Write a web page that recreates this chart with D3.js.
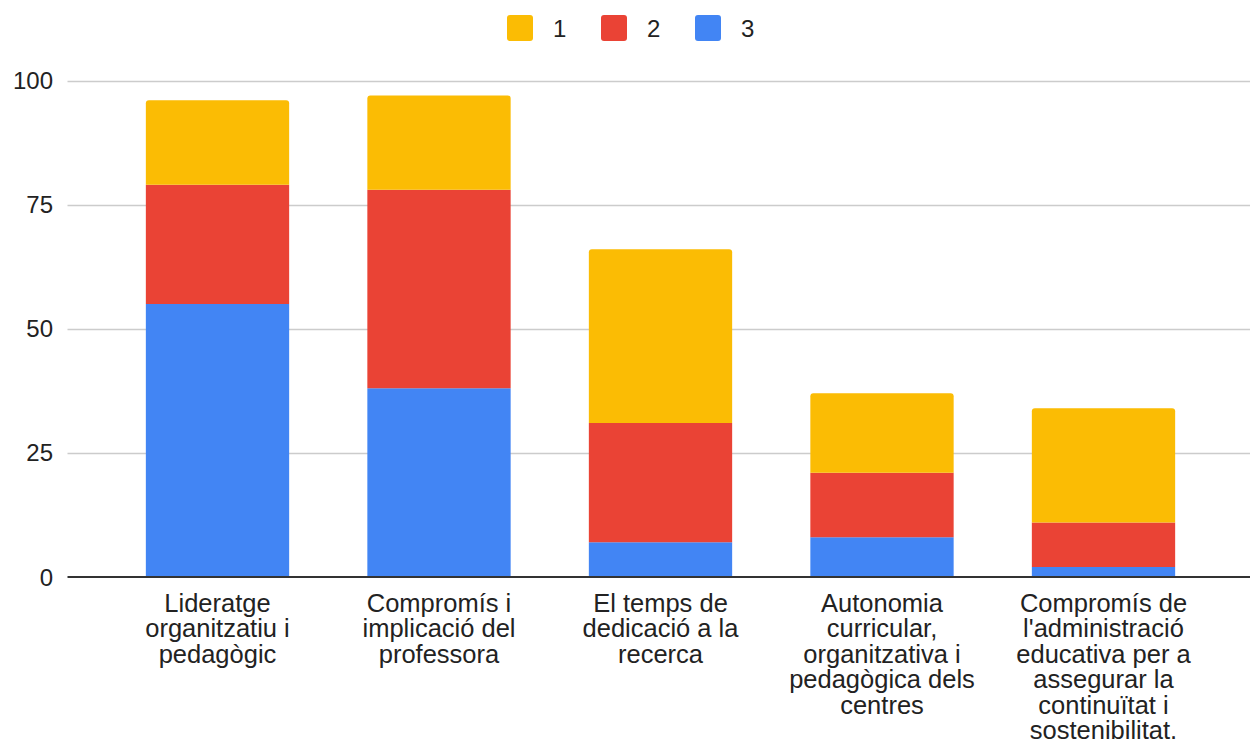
<!DOCTYPE html>
<html>
<head>
<meta charset="utf-8">
<script src="https://cdn.jsdelivr.net/npm/d3@7"></script>
<style>
  html, body { margin: 0; padding: 0; background: #fff; }
  svg { display: block; font-family: Arial, "Liberation Sans", sans-serif; }
</style>
</head>
<body>
<svg id="chart" width="1250" height="743"></svg>
<script>
// ---- data ----
const categories = [
  "Lideratge organitzatiu i pedagògic",
  "Compromís i implicació del professora",
  "El temps de dedicació a la recerca",
  "Autonomia curricular, organitzativa i pedagògica dels centres",
  "Compromís de l'administració educativa per a assegurar la continuïtat i sostenibilitat."
];
const categoryLines = [
  ["Lideratge", "organitzatiu i", "pedagògic"],
  ["Compromís i", "implicació del", "professora"],
  ["El temps de", "dedicació a la", "recerca"],
  ["Autonomia", "curricular,", "organitzativa i", "pedagògica dels", "centres"],
  ["Compromís de", "l'administració", "educativa per a", "assegurar la", "continuïtat i", "sostenibilitat."]
];
const seriesNames = ["1", "2", "3"];
const series3 = [55, 38, 7, 8, 2];
const series2 = [24, 40, 24, 13, 9];
const series1 = [17, 19, 35, 16, 23];
const yTicks = [0, 25, 50, 75, 100];
const colors = { "1": "#FBBC04", "2": "#EA4335", "3": "#4285F4" };

// ---- build stacked table (bottom to top: 3, 2, 1) ----
const rows = categories.map((c, i) => ({ cat: c, "3": series3[i], "2": series2[i], "1": series1[i] }));
const stackOrder = ["3", "2", "1"];
const stacked = d3.stack().keys(stackOrder)(rows);

const svg = d3.select("#chart");
const y = d3.scaleLinear().domain([0, 100]).range([577, 80.5]);
const x = d3.scaleBand().domain(categories).range([106.75, 1214.25]).paddingInner(0.353).paddingOuter(0.1765);

// gridlines
svg.append("g").selectAll("line").data(yTicks.filter(t => t !== 0)).join("line")
  .attr("x1", 67.5).attr("x2", 1250)
  .attr("y1", d => Math.round(y(d)) + 0.5).attr("y2", d => Math.round(y(d)) + 0.5)
  .attr("stroke", "#cccccc").attr("stroke-width", 1.5);

// y tick labels
svg.append("g").selectAll("text").data(yTicks).join("text")
  .attr("x", 53).attr("y", d => y(d))
  .attr("text-anchor", "end").attr("dominant-baseline", "central")
  .attr("font-size", 24).attr("fill", "#222")
  .text(d => d);

// bars
const r = 3;
function topRounded(x0, y0, w, h) {
  const rr = Math.min(r, h);
  return `M${x0},${y0 + h}V${y0 + rr}Q${x0},${y0} ${x0 + rr},${y0}H${x0 + w - rr}Q${x0 + w},${y0} ${x0 + w},${y0 + rr}V${y0 + h}Z`;
}
const layers = svg.append("g").selectAll("g").data(stacked).join("g")
  .attr("fill", d => colors[d.key]);
layers.each(function(layer) {
  const isTop = layer.key === stackOrder[stackOrder.length - 1];
  d3.select(this).selectAll("path").data(layer).join("path")
    .attr("d", d => {
      const x0 = x(d.data.cat), w = x.bandwidth();
      const yTop = y(d[1]), h = y(d[0]) - y(d[1]);
      if (isTop) return topRounded(x0, yTop, w, h);
      return `M${x0},${yTop}H${x0 + w}V${yTop + h}H${x0}Z`;
    });
});

// baseline axis
svg.append("line")
  .attr("x1", 67.5).attr("x2", 1250)
  .attr("y1", y(0)).attr("y2", y(0))
  .attr("stroke", "#333").attr("stroke-width", 2);

// x labels
const xl = svg.append("g").selectAll("text").data(categories).join("text")
  .attr("text-anchor", "middle").attr("font-size", 25.5).attr("fill", "#222")
  .attr("x", d => x(d) + x.bandwidth() / 2).attr("y", 611.5);
xl.each(function(d, i) {
  d3.select(this).selectAll("tspan").data(categoryLines[i]).join("tspan")
    .attr("x", x(d) + x.bandwidth() / 2)
    .attr("dy", (t, j) => j === 0 ? 0 : 25.5)
    .text(t => t);
});

// legend
const legendX = [507, 601, 695];
const lg = svg.append("g").selectAll("g").data(seriesNames).join("g")
  .attr("transform", (d, i) => `translate(${legendX[i]},15)`);
lg.append("rect").attr("width", 26).attr("height", 26).attr("rx", 3)
  .attr("fill", d => colors[d]);
lg.append("text").attr("x", 46).attr("y", 13).attr("dominant-baseline", "central")
  .attr("font-size", 24).attr("fill", "#222").text(d => d);
</script>
</body>
</html>
